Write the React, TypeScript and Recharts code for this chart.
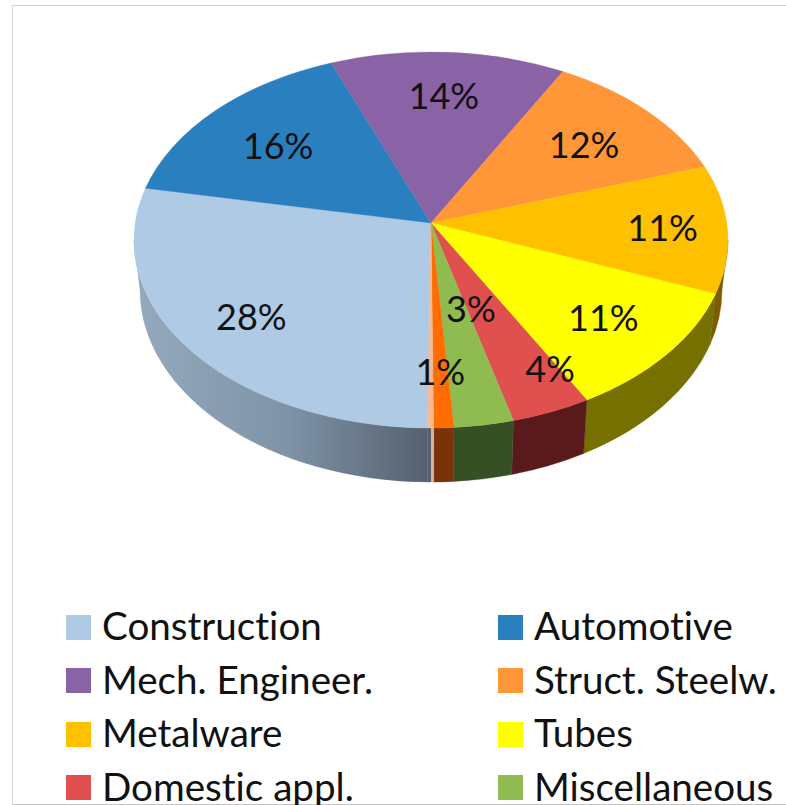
import React from "react";
import { PieChart, Pie, Legend } from "recharts";

const categories = ["Construction", "Automotive", "Mech. Engineer.", "Struct. Steelw.", "Metalware", "Tubes", "Domestic appl.", "Miscellaneous", "Other", "Rest"];
const shares = [28, 16, 14, 12, 11, 11, 4, 3, 1, 0.3];
const topColors = ["#afcae4", "#2a7fbf", "#8a62a6", "#ff9638", "#ffc000", "#ffff00", "#e0504f", "#8fbb50", "#ff6d00", "#f8b890"];
const wallColors = ["url(#constructionWall)", "#1f4f77", "#54396a", "#8a4f1a", "#7c5c00", "#767000", "#5a1a1b", "#374f24", "#7a3208", "url(#constructionWall)"];
const legendCount = 8;
const labelReachX = [0.78, 0.67, 0.68, 0.67, 0.78, 0.77, 1.07, 0.82, 0.79, 0];
const labelReachY = [0.78, 0.65, 0.68, 0.66, 0.78, 0.76, 0.83, 0.46, 0.79, 0];

const topData = categories.map((name, i) => ({ name, value: shares[i], fill: topColors[i] }));
const wallData = categories.map((name, i) => ({ name, value: shares[i], fill: wallColors[i] }));

const W = 786, H = 805;
const CX = 431, CY = 240, RX = 297, SQUASH = 188 / 297;
const APEX_Y = 223;
const BOTTOM_RX = 291, BOTTOM_RY = 192, BOTTOM_CY = 290;
const RAD = Math.PI / 180;
const FONT = "Lato, Carlito, 'Open Sans', sans-serif";

// the tilted view stretches the near-left side of the disc and squeezes the far-right one
const tilt = (a: number) => a + 5 * Math.cos(a * RAD);

const TopSlice = (p: any) => {
  const r = p.outerRadius, ry = r * SQUASH;
  const start = tilt(p.startAngle), end = tilt(p.endAngle);
  const px = (a: number) => p.cx + r * Math.cos(a * RAD);
  const py = (a: number) => p.cy - ry * Math.sin(a * RAD);
  const large = start - end > 180 ? 1 : 0;
  const d = `M${p.cx},${APEX_Y} L${px(start)},${py(start)} A${r},${ry} 0 ${large} 1 ${px(end)},${py(end)} Z`;
  return <path d={d} fill={p.fill} stroke={p.fill} strokeWidth={0.4} />;
};

const WallSlice = (p: any) => {
  const r = p.outerRadius, ry = r * SQUASH;
  const start = tilt(p.startAngle), end = tilt(p.endAngle);
  const positive = start > 180;
  const hi = Math.min(start, positive ? 360 : 0);
  const lo = Math.max(end, positive ? 180 : -180);
  if (hi <= lo) return null;
  const tx = (a: number) => p.cx + r * Math.cos(a * RAD);
  const ty = (a: number) => p.cy - ry * Math.sin(a * RAD);
  const bx = (a: number) => p.cx + BOTTOM_RX * Math.cos(a * RAD);
  const by = (a: number) => BOTTOM_CY - BOTTOM_RY * Math.sin(a * RAD);
  const d = `M${tx(hi)},${ty(hi)} A${r},${ry} 0 0 1 ${tx(lo)},${ty(lo)} L${bx(lo)},${by(lo)} A${BOTTOM_RX},${BOTTOM_RY} 0 0 0 ${bx(hi)},${by(hi)} Z`;
  return (
    <g>
      <defs>
        <linearGradient id="constructionWall" gradientUnits="userSpaceOnUse" x1={140} x2={434} y1={0} y2={0}>
          <stop offset="0" stopColor="#95a9bc" />
          <stop offset="0.5" stopColor="#7f93a7" />
          <stop offset="0.99" stopColor="#555f6e" />
          <stop offset="0.99" stopColor="#d6b4a4" />
          <stop offset="1" stopColor="#d6b4a4" />
        </linearGradient>
      </defs>
      <path d={d} fill={p.fill} stroke={p.fill} strokeWidth={0.4} />
    </g>
  );
};

const sliceLabel = (p: any) => {
  const i = p.index;
  if (!labelReachX[i]) return null;
  const a = p.midAngle * RAD;
  const x = p.cx + labelReachX[i] * p.outerRadius * Math.cos(a);
  const y = APEX_Y - labelReachY[i] * p.outerRadius * SQUASH * Math.sin(a);
  return (
    <text x={x} y={y} textAnchor="middle" dominantBaseline="central" fontFamily={FONT} fontSize={36} fill="#111">
      {shares[i]}%
    </text>
  );
};

const LegendBox = ({ payload }: any) => {
  const entries = categories.slice(0, legendCount).map((name, i) => ({
    name,
    color: ((payload || []).find((e: any) => e.value === name && e.color === topColors[i]) || {}).color || topColors[i],
  }));
  return (
    <div style={{ display: "grid", gridTemplateColumns: "432px 300px", gridAutoRows: "53.5px", fontFamily: FONT, fontSize: 38.6, color: "#111", marginLeft: 66, fontVariantLigatures: "none" }}>
      {entries.map((e) => (
        <div key={e.name} style={{ display: "flex", alignItems: "center", height: 26, whiteSpace: "nowrap", lineHeight: "24px" }}>
          <span style={{ display: "inline-block", width: 25, height: 25, background: e.color, marginRight: 11, flex: "none" }} />
          <span style={{ position: "relative", top: -2 }}>{e.name}</span>
        </div>
      ))}
    </div>
  );
};

export default function App() {
  return (
    <div style={{ position: "absolute", left: 0, top: 0, width: W, height: H, background: "#fff", overflow: "hidden" }}>
      <div style={{ position: "absolute", left: 12, top: 5, width: W, height: 798, borderTop: "1.5px solid #d4d4d4", borderLeft: "1.5px solid #d4d4d4", borderBottom: "1.5px solid #c4c4c4" }} />
      <PieChart width={W} height={H} margin={{ top: 0, right: 0, bottom: 0, left: 0 }}>
        <Pie data={wallData} dataKey="value" nameKey="name" cx={CX} cy={CY} outerRadius={RX} startAngle={269.4} endAngle={-90.6} shape={WallSlice} legendType="none" isAnimationActive={false} stroke="none" />
        <Pie data={topData} dataKey="value" nameKey="name" cx={CX} cy={CY} outerRadius={RX} startAngle={269.4} endAngle={-90.6} shape={TopSlice} label={sliceLabel} labelLine={false} isAnimationActive={false} stroke="none" />
        <Legend content={LegendBox} wrapperStyle={{ left: 0, top: 614, bottom: "auto", width: W }} />
      </PieChart>
    </div>
  );
}
